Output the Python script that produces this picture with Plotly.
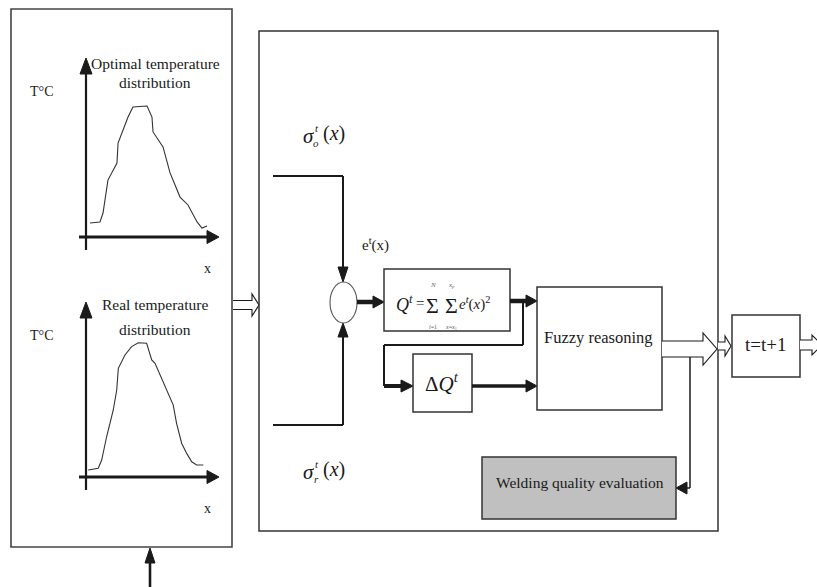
import plotly.graph_objects as go

# ---------------- data (temperature profiles, relative units 0-100) ----------------
opt_pos = [3.0, 10.5, 12.8, 16.5, 23.3, 24.1, 31.6, 35.3, 45.9, 49.6, 50.4, 57.9, 63.2, 70.7, 76.7, 83.5, 87.2, 91.0]
opt_temp = [7.8, 8.4, 13.4, 31.8, 41.3, 52.5, 67.0, 72.6, 73.2, 67.0, 58.7, 50.3, 35.8, 22.3, 17.9, 8.4, 5.0, 6.1]

real_pos = [1.7, 9.2, 11.8, 15.5, 20.5, 23.1, 24.3, 29.3, 34.3, 39.3, 45.6, 49.4, 51.9, 58.1, 63.2, 65.6, 68.1, 71.9, 75.7, 79.5, 83.2, 88.2]
real_temp = [4.0, 5.0, 9.7, 23.0, 38.3, 49.7, 62.1, 69.7, 74.5, 76.7, 76.4, 66.9, 65.0, 54.5, 45.9, 41.1, 30.7, 19.3, 13.5, 8.7, 6.9, 6.9]

panel_titles = [["Optimal temperature", "distribution"], ["Real temperature", "distribution"]]
axis_label_y = "T°C"
axis_label_x = "x"
block_labels = {
    "fuzzy": "Fuzzy reasoning",
    "weld": "Welding quality evaluation",
    "step": "t=t+1",
}

W, H = 817, 587
SERIF = "Liberation Serif"
INK = "#1a1a1a"

# inset geometry (pixel coordinates: origin x, origin y, tip x, tip y)
insets = [
    dict(ox=86, oy=237, tx=219, ty=58),
    dict(ox=86, oy=477, tx=219, ty=302),
]

fig = go.Figure()

# main invisible canvas in pixel units
fig.add_trace(go.Scatter(x=[0, W], y=[0, H], mode="markers", marker=dict(opacity=0),
                         hoverinfo="skip", showlegend=False, xaxis="x", yaxis="y"))

series = [(opt_pos, opt_temp), (real_pos, real_temp)]
for i, (g, (xs, ys)) in enumerate(zip(insets, series)):
    ax = "x%d" % (i + 2)
    ay = "y%d" % (i + 2)
    fig.add_trace(go.Scatter(x=xs, y=ys, mode="lines", line=dict(color="#333333", width=1.1),
                             xaxis=ax, yaxis=ay, showlegend=False, hoverinfo="skip"))

layout_axes = {}
layout_axes["xaxis"] = dict(range=[0, W], domain=[0, 1], visible=False, fixedrange=True)
layout_axes["yaxis"] = dict(range=[H, 0], domain=[0, 1], visible=False, fixedrange=True)
for i, g in enumerate(insets):
    n = i + 2
    layout_axes["xaxis%d" % n] = dict(range=[0, 100], domain=[g["ox"] / W, g["tx"] / W],
                                     visible=False, anchor="y%d" % n, fixedrange=True)
    layout_axes["yaxis%d" % n] = dict(range=[0, 100], domain=[1 - g["oy"] / H, 1 - g["ty"] / H],
                                     visible=False, anchor="x%d" % n, fixedrange=True)

shapes = []
annotations = []


def seg(x0, y0, x1, y1, w=1.5, color=INK):
    shapes.append(dict(type="line", x0=x0, y0=y0, x1=x1, y1=y1, xref="x", yref="y",
                       line=dict(color=color, width=w)))


def rect(x0, y0, x1, y1, w=1.5, color="#333333", fill="rgba(0,0,0,0)"):
    shapes.append(dict(type="rect", x0=x0, y0=y0, x1=x1, y1=y1, xref="x", yref="y",
                       line=dict(color=color, width=w), fillcolor=fill))


def head(tx, ty, d, length=12, half=5, color=INK):
    if d == "r":
        p = [(tx, ty), (tx - length, ty - half), (tx - length, ty + half)]
    elif d == "l":
        p = [(tx, ty), (tx + length, ty - half), (tx + length, ty + half)]
    elif d == "d":
        p = [(tx, ty), (tx - half, ty - length), (tx + half, ty - length)]
    else:
        p = [(tx, ty), (tx - half, ty + length), (tx + half, ty + length)]
    path = "M %s,%s L %s,%s L %s,%s Z" % (p[0][0], p[0][1], p[1][0], p[1][1], p[2][0], p[2][1])
    shapes.append(dict(type="path", path=path, xref="x", yref="y", fillcolor=color,
                       line=dict(color=color, width=1)))


def hollow(x0, hx, tip, yc, sh, hh, w=1.1):
    path = ("M %s,%s L %s,%s L %s,%s L %s,%s L %s,%s L %s,%s L %s,%s" %
            (x0, yc - sh, hx, yc - sh, hx, yc - hh, tip, yc, hx, yc + hh, hx, yc + sh, x0, yc + sh))
    shapes.append(dict(type="path", path=path, xref="x", yref="y", fillcolor="white",
                       line=dict(color=INK, width=w)))


def text(x, y, s, size=15, anchor="center", color=INK, family=SERIF):
    annotations.append(dict(x=x, y=y, xref="x", yref="y", text=s, showarrow=False,
                            xanchor=anchor, yanchor="middle",
                            font=dict(family=family, size=size, color=color)))


def sigma_label(xc, yc, sub):
    text(xc - 12, yc + 3, "<i>σ</i>", size=21)
    text(xc - 4, yc - 5, "<i>t</i>", size=11)
    text(xc - 5, yc + 10, "<i>%s</i>" % sub, size=11)
    text(xc, yc, "(<i>x</i>)", size=20, anchor="left")


# ---------------- left panel ----------------
rect(11, 9, 232, 547, w=1.6, color="#444444")
for g, titles, ty in zip(insets, panel_titles, [(63, 82), (304, 329)]):
    # axes with arrow heads
    seg(g["ox"], g["oy"] + 13, g["ox"], g["ty"] + 14, w=2.2)
    head(g["ox"], g["ty"], "u", length=16, half=6)
    seg(g["ox"] - 7, g["oy"], g["tx"] - 10, g["oy"], w=3.2)
    head(g["tx"], g["oy"], "r", length=12, half=6.5)
    text(42, g["ty"] + 33, axis_label_y, size=14)
    text(207, g["oy"] + 31, axis_label_x, size=14)
    text(155, ty[0], titles[0], size=15.5)
    text(155, ty[1], titles[1], size=15.5)

# input arrow from below
seg(150, 590, 150, 560, w=2.6)
head(150, 548, "u", length=15, half=5)

# hollow arrow left -> main
hollow(233, 252, 259, 305, 4.5, 11)

# ---------------- main panel ----------------
rect(259, 31, 718, 531, w=1.5, color="#333333")

# sigma_o input
seg(273, 176, 343, 176, w=2)
seg(343, 176, 343, 270, w=2)
head(343, 282, "d", length=15, half=5)
sigma_label(321, 133, "o")
text(375, 244, "e<sup>t</sup>(x)", size=15)

# sigma_r input
seg(273, 425, 343, 425, w=2)
seg(343, 425, 343, 336, w=2)
head(343, 323, "u", length=14, half=5)
sigma_label(321, 469, "r")

# summing junction
shapes.append(dict(type="circle", x0=330, y0=282, x1=357, y1=323, xref="x", yref="y",
                   line=dict(color="#555555", width=1.1), fillcolor="white"))

# junction -> Q box
seg(357, 302, 374, 302, w=4.5)
head(384, 302, "r", length=11, half=6)

# Q box
rect(384, 269, 510, 331, w=1.5)
text(404, 303, "<i>Q</i><sup><i>t</i></sup>", size=18)
text(420, 303, "=", size=15)
text(432, 305, "Σ", size=22)
text(451, 305, "Σ", size=22)
text(457, 303, "<i>e</i><sup><i>t</i></sup>(<i>x</i>)<sup>2</sup>", size=15, anchor="left")
text(433, 285, "<i>N</i>", size=7, color="#666666")
text(451, 285, "<i>x<sub>p</sub></i>", size=7, color="#666666")
text(433, 327, "<i>i</i>=1", size=6, color="#555555")
text(451, 327, "<i>x</i>=<i>x</i><sub>1</sub>", size=6, color="#555555")

# Q -> fuzzy
seg(510, 301, 527, 301, w=4.5)
head(537, 301, "r", length=11, half=6)

# feedback to delta Q
seg(523, 301, 523, 345, w=2)
seg(523, 345, 384, 345, w=2)
seg(384, 345, 384, 386, w=2)
seg(384, 386, 402, 386, w=4)
head(413, 386, "r", length=12, half=6)

# delta Q box
rect(413, 354, 472, 412, w=1.5)
text(442, 382, "Δ<i>Q</i><sup><i>t</i></sup>", size=21)

# delta Q -> fuzzy
seg(472, 386, 527, 386, w=3.5)
head(537, 386, "r", length=11, half=6)

# fuzzy box
rect(537, 287, 662, 410, w=1.5)
text(598, 337, block_labels["fuzzy"], size=16.5)

# fuzzy -> out (hollow)
hollow(662, 703, 717, 349, 8, 16)

# feedback to welding quality
seg(690, 357, 690, 488, w=1.5)
seg(690, 488, 686, 488, w=1.5)
head(676, 488, "l", length=11, half=6)

# welding box
rect(482, 457, 676, 519, w=1.5, fill="#c0c0c0")
text(580, 482, block_labels["weld"], size=15.5)

# small hollow arrow to step box
hollow(718, 725, 731, 346, 4, 10)

# step box
rect(732, 315, 800, 377, w=1.5)
text(766, 344, block_labels["step"], size=19)

# output hollow arrow
hollow(800, 812, 822, 345, 5, 10)

fig.update_layout(
    width=W, height=H,
    margin=dict(l=0, r=0, t=0, b=0),
    paper_bgcolor="white", plot_bgcolor="white",
    showlegend=False,
    shapes=shapes,
    annotations=annotations,
    **layout_axes,
)

fig.write_html("out.html", config={"displayModeBar": False, "staticPlot": True},
               post_script="document.body.style.margin='0px';document.body.style.overflow='hidden';")
